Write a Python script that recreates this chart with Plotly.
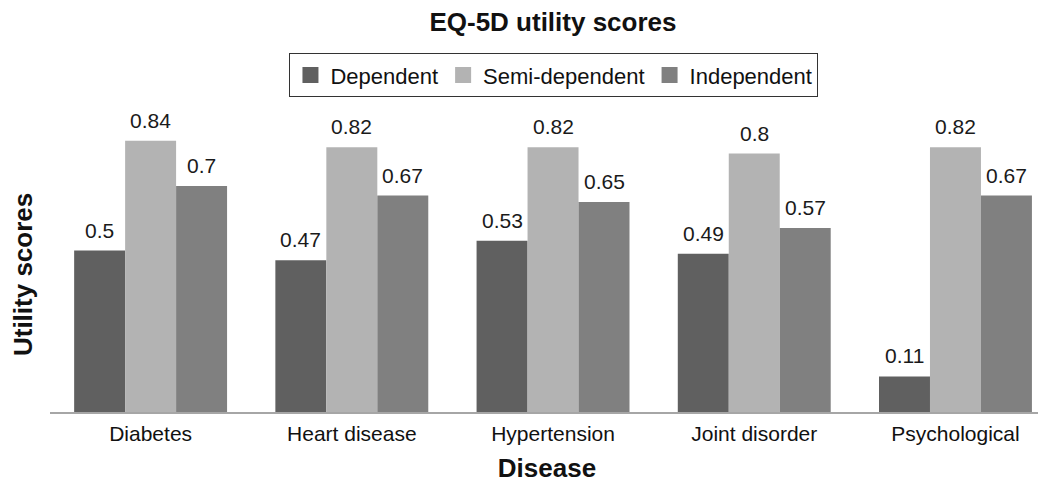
import plotly.graph_objects as go

diseases = ["Diabetes", "Heart disease", "Hypertension", "Joint disorder", "Psychological"]
dependent = [0.5, 0.47, 0.53, 0.49, 0.11]
semi_dependent = [0.84, 0.82, 0.82, 0.8, 0.82]
independent = [0.7, 0.67, 0.65, 0.57, 0.67]

series = [
    ("Dependent", dependent, "#606060"),
    ("Semi-dependent", semi_dependent, "#b3b3b3"),
    ("Independent", independent, "#808080"),
]

FONT = "Liberation Sans, Arial, sans-serif"
BAR_PX = 51  # width of one bar in pixels, used to shift the value labels

# page body has an 8px margin, so the figure is a bit smaller than the window
fig = go.Figure()
for i, (name, vals, color) in enumerate(series):
    fig.add_trace(
        go.Bar(
            name=name,
            x=diseases,
            y=vals,
            marker=dict(color=color, line=dict(width=0)),
            showlegend=False,
        )
    )
    # legend entry with a bigger square swatch
    fig.add_trace(
        go.Scatter(
            name=name,
            x=[None],
            y=[None],
            mode="markers",
            marker=dict(symbol="square", size=18, color=color),
        )
    )
    # value labels above each bar
    for d, v in zip(diseases, vals):
        fig.add_annotation(
            x=d,
            y=v,
            xref="x",
            yref="y",
            text=str(v),
            showarrow=False,
            xshift=(i - 1) * BAR_PX,
            yanchor="bottom",
            yshift=7,
            font=dict(size=21, color="#1a1a1a", family=FONT),
        )

# y axis title sits a bit below the middle of the plot in the original
fig.add_annotation(
    text="<b>Utility scores</b>",
    xref="paper",
    yref="paper",
    x=0,
    y=0.424,
    xanchor="center",
    yanchor="middle",
    xshift=-27,
    textangle=-90,
    showarrow=False,
    font=dict(size=26, color="#111111", family=FONT),
)

fig.update_layout(
    width=1038,
    height=475,
    barmode="group",
    bargap=0.24,
    bargroupgap=0,
    paper_bgcolor="white",
    plot_bgcolor="white",
    font=dict(family=FONT, color="#111111"),
    margin=dict(l=42, r=2, t=81, b=71),
    title=dict(
        text="<b>EQ-5D utility scores</b>",
        x=0.506,
        xanchor="center",
        xref="paper",
        y=0.97,
        yanchor="middle",
        font=dict(size=26, color="#111111"),
    ),
    legend=dict(
        orientation="h",
        x=0.507,
        xanchor="center",
        y=1.043,
        yanchor="middle",
        bordercolor="#333333",
        borderwidth=1,
        font=dict(size=22, color="#111111"),
        itemwidth=30,
    ),
    showlegend=True,
)

fig.update_xaxes(
    range=[-0.5, 4.44],
    showline=True,
    linecolor="#a6a6a6",
    linewidth=2,
    ticks="",
    automargin=False,
    ticklabelstandoff=2,
    tickfont=dict(size=21, color="#111111"),
    title=dict(text="<b>Disease</b>", font=dict(size=26, color="#111111"), standoff=26),
)
fig.update_yaxes(
    range=[0, 1],
    showticklabels=False,
    showgrid=False,
    zeroline=False,
    showline=False,
    automargin=False,
)

fig.write_html("out.html")
